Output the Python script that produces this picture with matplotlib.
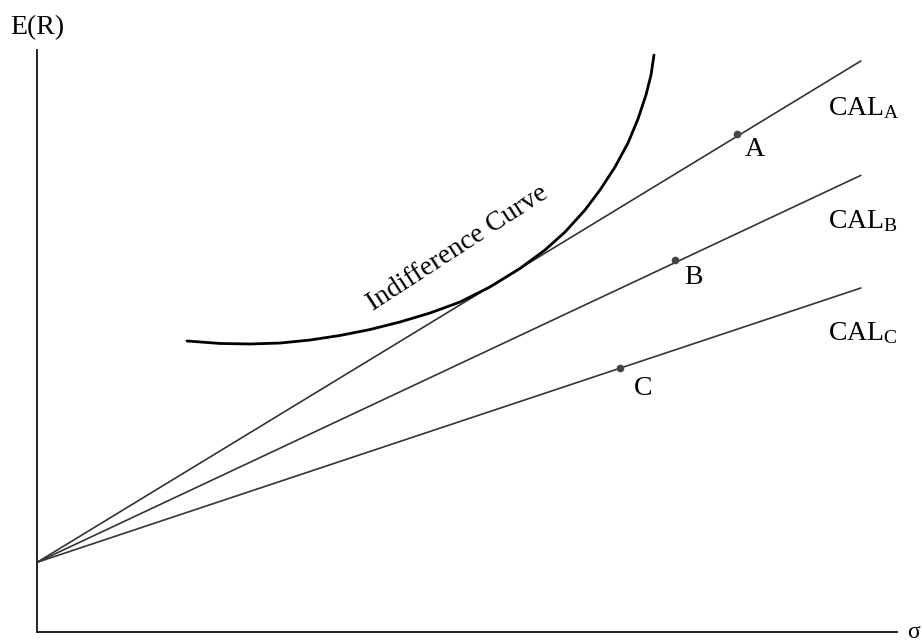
import matplotlib
matplotlib.use('Agg')
import matplotlib.pyplot as plt

plt.rcParams.update({
    'font.family': ['Liberation Serif', 'DejaVu Serif'],
    'mathtext.fontset': 'custom',
    'mathtext.rm': 'Liberation Serif',
    'mathtext.it': 'Liberation Serif:italic',
})

# ── Data (units: sigma on x, E(R) on y) ──
rf = 0.81                       # risk-free intercept
cal_end_x = 9.58
cal_names = ['A', 'B', 'C']
cal_end_y = [6.64, 5.31, 4.00]  # where each CAL stops on the right

point_x = [8.14, 7.42, 6.78]    # portfolios A, B, C
point_y = [5.79, 4.32, 3.07]

curve_x = [1.744, 2.128, 2.477, 2.826, 3.174, 3.523, 3.872, 4.221, 4.570,
           4.919, 5.267, 5.616, 5.907, 6.140, 6.372, 6.547, 6.721, 6.872,
           6.988, 7.081, 7.140, 7.174]
curve_y = [3.384, 3.355, 3.349, 3.360, 3.395, 3.448, 3.517, 3.605, 3.709,
           3.837, 4.012, 4.227, 4.442, 4.651, 4.907, 5.140, 5.407, 5.686,
           5.965, 6.244, 6.477, 6.709]

W, H = 922, 641
fig = plt.figure(figsize=(W / 100, H / 100), dpi=100)
# axes origin at pixel (37, 632), top at y=50, right end at x=897
ax = fig.add_axes([37 / W, (H - 632) / H, 860 / W, 582 / H])
ax.set_xlim(0, 10)
ax.set_ylim(0, 582 / 86)

for s in ['top', 'right']:
    ax.spines[s].set_visible(False)
for s in ['left', 'bottom']:
    ax.spines[s].set_linewidth(1.4)
    ax.spines[s].set_color('#222222')
ax.set_xticks([])
ax.set_yticks([])

# ── Capital allocation lines ──
for ey in cal_end_y:
    ax.plot([0, cal_end_x], [rf, ey], color='#333333', lw=1.2,
            solid_capstyle='round')

# ── Indifference curve ──
ax.plot(curve_x, curve_y, color='black', lw=2.0, solid_capstyle='round',
        solid_joinstyle='round')

# ── Portfolio points ──
ax.plot(point_x, point_y, 'o', color='#444444', ms=4.5, zorder=5)

# ── Labels ──
FS = 20
cal_label_y = [6.01, 4.70, 3.40]
for name, ly in zip(cal_names, cal_label_y):
    ax.text(9.2, ly, r'$\mathrm{CAL}_{\mathrm{%s}}$' % name, fontsize=FS,
            ha='left', va='baseline', clip_on=False)

pt_label_x = [8.35, 7.63, 7.05]
pt_label_y = [5.53, 4.05, 2.76]
for name, lx, ly in zip(cal_names, pt_label_x, pt_label_y):
    ax.text(lx, ly, name, fontsize=FS, ha='center', va='baseline')

ax.text(4.89, 4.46, 'Indifference Curve', fontsize=FS, rotation=33,
        ha='center', va='center', rotation_mode='anchor')

ax.text(0.0, 7.03, 'E(R)', fontsize=FS, ha='center', va='center',
        clip_on=False)
ax.text(10.19, 0.0, '\u03c3', fontsize=17, ha='center', va='center',
        clip_on=False)

fig.savefig('out.png', dpi=100, facecolor='white')
